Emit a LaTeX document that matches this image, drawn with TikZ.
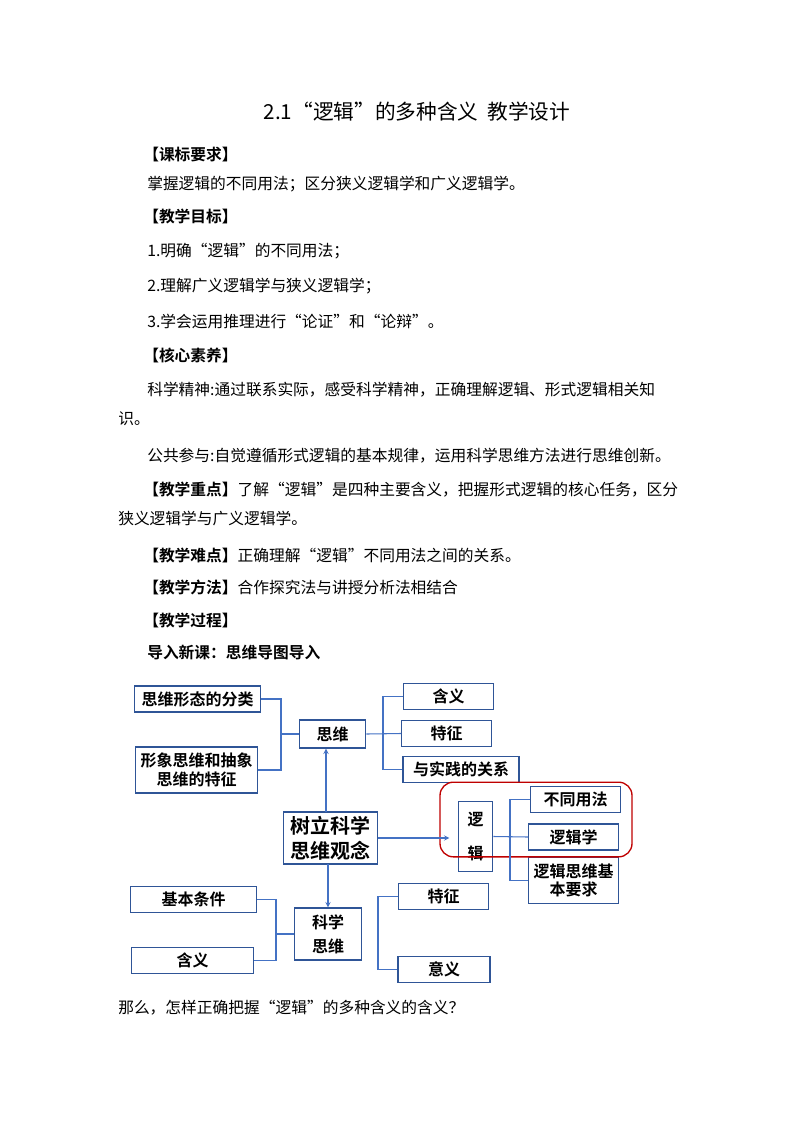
\documentclass[tikz,border=0pt]{standalone}
\usepackage{fontspec}
\setmainfont{Noto Sans CJK SC}
\newfontfamily\cjkb{Noto Sans CJK SC Bold}
\definecolor{bl}{RGB}{47,85,151}
\definecolor{bl2}{RGB}{68,114,196}
\begin{document}
\begin{tikzpicture}[x=0.75pt,y=-0.75pt,
  t/.style={anchor=west,inner sep=0,font=\fontsize{11.8}{12}\selectfont},
  h/.style={t,font=\fontsize{11.8}{12}\selectfont\cjkb},
  bx/.style={draw=bl,line width=0.9pt,inner sep=0,align=center,font=\fontsize{12}{14}\selectfont\cjkb},
  ln/.style={draw=bl2,line width=0.8pt},
  ar/.style={ln,-stealth}]
\useasboundingbox (0,0) rectangle (794,1123);
\node[inner sep=0,font=\fontsize{15.5}{16}\selectfont] (title) at (417,112) {2.1“逻辑”的多种含义\ \ 教学设计};
\node[h] (l1) at (143,155) {【课标要求】};
\node[t] (l2) at (147,184) {掌握逻辑的不同用法；区分狭义逻辑学和广义逻辑学。};
\node[h] (l3) at (143,216) {【教学目标】};
\node[t] (l4) at (147,251) {1.明确“逻辑”的不同用法；};
\node[t] (l5) at (147,286) {2.理解广义逻辑学与狭义逻辑学；};
\node[t] (l6) at (147,321) {3.学会运用推理进行“论证”和“论辩”。};
\node[h] (l7) at (143,355) {【核心素养】};
\node[t] (l8) at (147,390) {科学精神:通过联系实际，感受科学精神，正确理解逻辑、形式逻辑相关知};
\node[t] (l9) at (118,419) {识。};
\node[t] (l10) at (147,456) {公共参与:自觉遵循形式逻辑的基本规律，运用科学思维方法进行思维创新。};
\node[t] (l11) at (143,490) {{\cjkb 【教学重点】}了解“逻辑”是四种主要含义，把握形式逻辑的核心任务，区分};
\node[t] (l12) at (118,519) {狭义逻辑学与广义逻辑学。};
\node[t] (l13) at (143,555) {{\cjkb 【教学难点】}正确理解“逻辑”不同用法之间的关系。};
\node[t] (l14) at (143,587) {{\cjkb 【教学方法】}合作探究法与讲授分析法相结合};
\node[h] (l15) at (143,620) {【教学过程】};
\node[h] (l16) at (147,652) {导入新课：思维导图导入};
\node[t] (l17) at (118,1008) {那么，怎样正确把握“逻辑”的多种含义的含义？};
% boxes
\node[bx,minimum width=94pt,minimum height=19.5pt] (a1) at (197.5,699) {思维形态的分类};
\node[bx,minimum width=92pt,minimum height=34.5pt] (a2) at (196.5,770) {形象思维和抽象\\思维的特征};
\node[bx,minimum width=50pt,minimum height=21pt] (sw) at (332.5,734) {思维};
\node[bx,minimum width=67pt,minimum height=19pt] (b1) at (448.5,696.5) {含义};
\node[bx,minimum width=67pt,minimum height=19pt] (b2) at (446.5,733.5) {特征};
\node[bx,minimum width=87pt,minimum height=19pt] (b3) at (461,769.5) {与实践的关系};
\node[bx,minimum width=71pt,minimum height=39pt,font=\fontsize{15}{19}\selectfont\cjkb] (c) at (330.5,838) {树立科学\\思维观念};
\node[bx,minimum width=26pt,minimum height=53pt,font=\fontsize{12}{26}\selectfont\cjkb] (lj) at (475.5,836.5) {逻\\辑};
\node[bx,minimum width=67pt,minimum height=19pt] (d1) at (575.5,799.5) {不同用法};
\node[bx,minimum width=67pt,minimum height=19.5pt] (d2) at (573.5,837) {逻辑学};
\node[bx,minimum width=67pt,minimum height=34pt,font=\fontsize{12}{14}\selectfont\cjkb] (d3) at (573.5,880.5) {逻辑思维基\\本要求};
\node[draw=red!75!black,line width=1pt,rounded corners=10pt,minimum width=144pt,minimum height=56pt,inner sep=0] (red) at (536,819.5) {};
\node[bx,minimum width=94pt,minimum height=19pt] (e1) at (193.5,899.5) {基本条件};
\node[bx,minimum width=92pt,minimum height=19pt] (e2) at (192.5,960.5) {含义};
\node[bx,minimum width=50pt,minimum height=39pt,font=\fontsize{12}{18}\selectfont\cjkb] (ks) at (328,934) {科学\\思维};
\node[bx,minimum width=67pt,minimum height=19pt] (f1) at (443.5,896.5) {特征};
\node[bx,minimum width=69pt,minimum height=19pt] (f2) at (444,969.5) {意义};
% connectors
\coordinate (j1) at (281,734);
\draw[ln] (a1.east) -| (j1) |- (a2.east);
\draw[ln] (j1) -- (sw.west);
\coordinate (j2) at (383,734);
\draw[ln] (b1.west) -| (j2) |- (b3.west);
\draw[ln] (sw.east) -- (b2.west);
\coordinate (cu) at (326,812);
\draw[ar] (cu) -- (cu |- sw.south);
\draw[ar] (c.east) -- ++(71,0) coordinate (ae);
\coordinate (cd) at (328,864);
\draw[ar] (cd) -- (ks.north);
\coordinate (j3) at (510,836);
\draw[ln] (d1.west) -| (j3) |- (d3.west);
\draw[ln] (lj.east) -- (d2.west);
\coordinate (j4) at (276,934);
\draw[ln] (e1.east) -| (j4) |- (e2.east);
\draw[ln] (j4) -- (ks.west);
\coordinate (j5) at (378,930);
\draw[ln] (f1.west) -| (j5) |- (f2.west);
\end{tikzpicture}
\end{document}
